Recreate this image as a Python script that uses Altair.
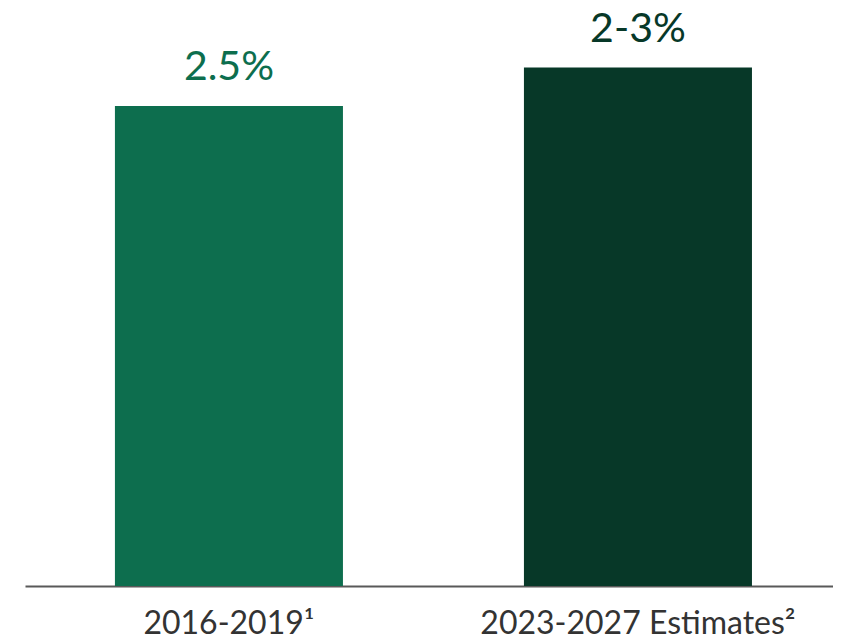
import altair as alt
import pandas as pd

categories = ["2016-2019\u00b9", "2023-2027 Estimates\u00b2"]
values = [2.5, 2.7]
value_labels = ["2.5%", "2-3%"]
colors = ["#0d6e4e", "#073828"]

df = pd.DataFrame({"cat": categories, "val": values, "lab": value_labels, "col": colors})

x = alt.X("cat:N", sort=categories, title=None,
          scale=alt.Scale(paddingInner=0.4425, paddingOuter=0.209, align=0.526),
          axis=alt.Axis(labelAngle=0, ticks=False, tickSize=0, labelPadding=47,
                        labelBaseline="alphabetic", labelFont="Lato", labelFontSize=32,
                        labelLimit=0, labelColor="#333333", domainColor="#595959",
                        domainWidth=2, grid=False))
y = alt.Y("val:Q", scale=alt.Scale(domain=[0, 3.0104], nice=False), axis=None)

bars = alt.Chart(df).mark_bar().encode(
    x=x, y=y, color=alt.Color("col:N", scale=None)
)
text = alt.Chart(df).mark_text(font="Lato", fontSize=41, dy=-26, baseline="alphabetic").encode(
    x=x, y=y, text="lab:N",
    color=alt.Color("col:N", scale=None)
)

chart = alt.layer(bars, text).properties(
    width=808, height=578,
    padding={"left": 17, "top": 0, "right": 0, "bottom": 50},
    autosize=alt.AutoSizeParams(type="none"),
    view=alt.ViewBackground(stroke="transparent", strokeWidth=0, fill="white"),
).configure_view(stroke="transparent", strokeWidth=0).configure(background="white")

chart.save("out.html", embed_options={"renderer": "svg", "actions": False})
